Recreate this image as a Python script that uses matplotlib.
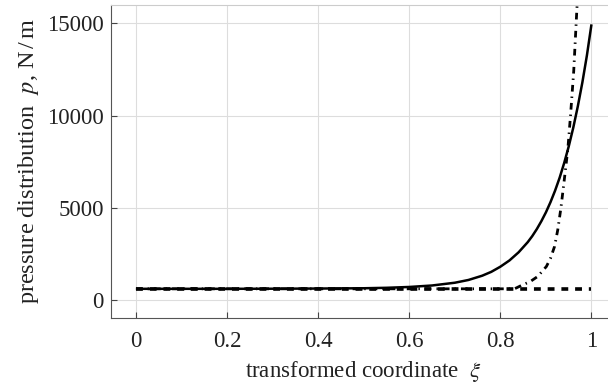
import numpy as np
import matplotlib; matplotlib.use("Agg")
import matplotlib.pyplot as plt

plt.rcParams["font.family"] = ["Liberation Serif", "DejaVu Serif"]
plt.rcParams["mathtext.fontset"] = "stix"

# ---- values ----
xi_solid = [0.0, 0.1, 0.2, 0.3, 0.4, 0.5, 0.55, 0.6, 0.65, 0.7, 0.73, 0.76,
            0.78, 0.8, 0.82, 0.84, 0.86, 0.87, 0.88, 0.89, 0.9, 0.91, 0.92,
            0.93, 0.94, 0.95, 0.96, 0.97, 0.98, 0.99, 1.0]
p_solid = [600, 600, 600, 605, 615, 630, 655, 700, 780, 930, 1080, 1310,
           1520, 1800, 2140, 2580, 3130, 3460, 3840, 4270, 4750, 5300, 5920,
           6620, 7420, 8320, 9340, 10500, 11800, 13270, 14950]

xi_dashdot = [0.0, 0.4, 0.8, 0.831, 0.849, 0.866, 0.882, 0.901, 0.91, 0.919,
              0.926, 0.933, 0.94, 0.948, 0.954, 0.961, 0.968, 0.972]
p_dashdot = [600, 600, 600, 600, 815, 1000, 1270, 1810, 2250, 2900,
             3800, 5000, 6450, 8150, 10000, 12400, 15800, 17500]

xi_dashed = [0.0, 1.0]
p_dashed = [600, 600]

yticks = [0, 5000, 10000, 15000]
xticks = [0, 0.2, 0.4, 0.6, 0.8, 1]
xtick_labels = ["0", "0.2", "0.4", "0.6", "0.8", "1"]

fig = plt.figure(figsize=(6.08, 3.86), dpi=100)
ax = fig.add_axes([0.182, 0.1754, 0.8324, 0.987 - 0.1754])

ax.plot(xi_solid, p_solid, color="black", lw=1.8, solid_capstyle="butt")
ax.plot(xi_dashed, p_dashed, color="black", lw=2.6, dashes=(1.9, 1.9))
ax.plot(xi_dashdot, p_dashdot, color="black", lw=2.0, dashes=(2.4, 1.8, 0.5, 1.8))

ax.set_xlim(-0.0555, 1.0555)
ax.set_ylim(-1000, 16000)
ax.set_xticks(xticks)
ax.set_xticklabels(xtick_labels)
ax.set_yticks(yticks)
ax.grid(color="#dddddd", lw=0.8)
ax.set_axisbelow(True)
ax.tick_params(direction="in", length=4.3, width=0.8, color="#444444",
               labelsize=16.5, labelcolor="#222222")
ax.tick_params(axis="x", pad=9)
ax.tick_params(axis="y", pad=5)
for s in ("left", "bottom"):
    ax.spines[s].set_color("#555555")
ax.spines["top"].set_color("#cccccc")
ax.spines["right"].set_visible(False)

ax.set_xlabel(r"transformed coordinate  $\xi$", fontsize=16.5, color="#222222", labelpad=5)
ax.set_ylabel(r"pressure distribution  $p$, N$\,$/$\,$m", fontsize=17.5, color="#222222", labelpad=4)

fig.savefig("out.png", dpi=100)
